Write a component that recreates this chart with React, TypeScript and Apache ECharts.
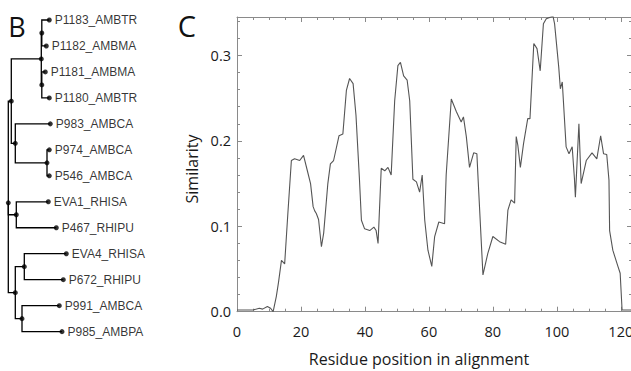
import React, { useEffect, useRef } from 'react';
import * as echarts from 'echarts';

// ---------- Panel B: tree ----------
const leafNames = [
  'P1183_AMBTR', 'P1182_AMBMA', 'P1181_AMBMA', 'P1180_AMBTR', 'P983_AMBCA', 'P974_AMBCA',
  'P546_AMBCA', 'EVA1_RHISA', 'P467_RHIPU', 'EVA4_RHISA', 'P672_RHIPU', 'P991_AMBCA', 'P985_AMBPA',
];
const nodeIds = [
  'R', 'A', 'G', 'G1', 'P1183_AMBTR', 'P1182_AMBMA', 'G2', 'P1181_AMBMA', 'P1180_AMBTR',
  'B', 'P983_AMBCA', 'H', 'P974_AMBCA', 'P546_AMBCA',
  'C', 'EVA1_RHISA', 'P467_RHIPU',
  'D', 'E', 'EVA4_RHISA', 'P672_RHIPU', 'F', 'P991_AMBCA', 'P985_AMBPA',
];
const nodeParents = [
  '', 'R', 'A', 'G', 'G1', 'G1', 'G', 'G2', 'G2',
  'A', 'B', 'B', 'H', 'H',
  'R', 'C', 'C',
  'R', 'D', 'E', 'E', 'D', 'F', 'F',
];
// cumulative distance from the root (arbitrary units)
const nodeDepths = [
  0, 3, 33, 33.5, 41, 38, 33.5, 37, 41,
  7, 42, 38.7, 41, 41,
  8, 40, 48,
  7, 16, 58, 55, 13.7, 51, 53.7,
];

// ---------- Panel C: similarity profile ----------
const residuePos = [
  0, 5, 7, 8, 9.5, 10.5, 11.3, 12.3, 13, 13.9, 14.9, 15.9, 17, 18, 19.6, 20.8, 22, 23, 23.8, 24.3,
  24.8, 25.5, 26.4, 27.1, 28.4, 29.2, 30.2, 31.9, 33.1, 34.2, 35.2, 36.3, 37.2, 38.3, 38.9, 39.9,
  41.5, 42.8, 43.5, 44.1, 45.1, 46.2, 47.2, 48.2, 49.3, 50.3, 51.1, 52.1, 53.2, 54, 55, 56.1, 57.1,
  57.9, 58.7, 59.7, 60.9, 61.8, 63.1, 64.9, 65.4, 67, 68.6, 70.1, 70.8, 71.7, 72.7, 74, 75, 75.4,
  76.9, 78.4, 80, 82.1, 84, 84.7, 85.7, 86.8, 87.3, 87.8, 88.6, 89.6, 90.9, 91.6, 92.8, 93.8, 94.8,
  95.8, 96.7, 98.8, 99.3, 100.6, 101.1, 101.7, 102.9, 103.8, 104.8, 105.5, 105.8, 106.9, 107.6,
  109.2, 111, 112.5, 113.7, 114.6, 115.6, 116.3, 116.5, 117.5, 119.1, 119.8, 120.4, 123.5,
];
const similarity = [
  0.002, 0.002, 0.004, 0.003, 0.006, 0.004, 0.0, 0.018, 0.035, 0.06, 0.056, 0.115, 0.177, 0.179, 0.177, 0.183, 0.165, 0.15, 0.123, 0.118,
  0.115, 0.108, 0.076, 0.092, 0.15, 0.173, 0.177, 0.206, 0.208, 0.259, 0.273, 0.267, 0.23, 0.154, 0.107, 0.097,
  0.095, 0.099, 0.095, 0.08, 0.168, 0.165, 0.169, 0.16, 0.247, 0.288, 0.292, 0.276, 0.271, 0.247, 0.155, 0.152, 0.14,
  0.16, 0.107, 0.072, 0.053, 0.088, 0.105, 0.103, 0.16, 0.249, 0.234, 0.222, 0.228, 0.205, 0.169, 0.186, 0.185, 0.154,
  0.043, 0.068, 0.088, 0.082, 0.079, 0.119, 0.131, 0.127, 0.205, 0.195, 0.169, 0.197, 0.226, 0.226, 0.314, 0.308, 0.282,
  0.337, 0.343, 0.346, 0.337, 0.286, 0.261, 0.269, 0.193, 0.185, 0.193, 0.156, 0.134, 0.22, 0.15,
  0.177, 0.186, 0.179, 0.206, 0.185, 0.184, 0.154, 0.095, 0.072, 0.053, 0.045, 0.002, 0.002,
];

const X_MAX = 123.5;
const Y_MAX = 0.345;
const AXIS_COLOR = '#8a8a8a';

export default function App() {
  const ref = useRef<HTMLDivElement>(null);

  useEffect(() => {
    const chart = echarts.init(ref.current!, null, { renderer: 'svg' });

    // tree layout: leaves by order, internal nodes at mean of children
    const children: Record<string, string[]> = {};
    const depthOf: Record<string, number> = {};
    nodeIds.forEach((id, i) => {
      depthOf[id] = nodeDepths[i];
      const p = nodeParents[i];
      if (p) (children[p] = children[p] || []).push(id);
    });
    const yOf: Record<string, number> = {};
    const getY = (id: string): number => {
      if (yOf[id] !== undefined) return yOf[id];
      const li = leafNames.indexOf(id);
      if (li >= 0) return (yOf[id] = li);
      const ys = children[id].map(getY);
      return (yOf[id] = ys.reduce((a, b) => a + b, 0) / ys.length);
    };
    nodeIds.forEach(getY);

    const edges = nodeIds
      .map((id, i) => ({ id, p: nodeParents[i] }))
      .filter((e) => e.p)
      .map((e) => ({
        coords: [
          [depthOf[e.p], yOf[e.p]],
          [depthOf[e.p], yOf[e.id]],
          [depthOf[e.id], yOf[e.id]],
        ],
      }));

    const nodePoints = nodeIds.map((id) => ({
      name: id,
      value: [depthOf[id], yOf[id]],
      label: { show: leafNames.indexOf(id) >= 0 },
    }));

    const frameX = (position: 'top' | 'bottom', interval: number, len: number, withLine: boolean, withLabels: boolean) => ({
      type: 'value',
      gridIndex: 0,
      position,
      min: 0,
      max: X_MAX,
      interval,
      splitLine: { show: false },
      axisLine: { show: withLine, onZero: false, lineStyle: { color: AXIS_COLOR, width: 1 } },
      axisTick: { show: true, inside: true, length: len, lineStyle: { color: AXIS_COLOR, width: 1 } },
      axisLabel: withLabels
        ? {
            show: true,
            margin: 12,
            color: '#1a1a1a',
            fontFamily: 'Open Sans',
            fontSize: 14.5,
            showMaxLabel: false,
            formatter: (v: number) => (Math.abs(v % 20) < 1e-9 ? String(v) : ''),
          }
        : { show: false },
    });

    const frameY = (position: 'left' | 'right', interval: number, len: number, withLine: boolean, withLabels: boolean) => ({
      type: 'value',
      gridIndex: 0,
      position,
      min: 0,
      max: Y_MAX,
      interval,
      splitLine: { show: false },
      axisLine: { show: withLine, onZero: false, lineStyle: { color: AXIS_COLOR, width: 1 } },
      axisTick: { show: true, inside: true, length: len, lineStyle: { color: AXIS_COLOR, width: 1 } },
      axisLabel: withLabels
        ? {
            show: true,
            margin: 6,
            color: '#1a1a1a',
            fontFamily: 'Open Sans',
            fontSize: 14.5,
            showMaxLabel: false,
            formatter: (v: number) => (Math.abs(v * 10 - Math.round(v * 10)) < 1e-6 ? v.toFixed(1) : ''),
          }
        : { show: false },
    });

    chart.setOption({
      animation: false,
      backgroundColor: '#ffffff',
      grid: [
        { left: 237, top: 17, width: 395, height: 294.7, outerBoundsMode: 'none', containLabel: false },
        { left: 0, top: 0, width: 200, height: 371, outerBoundsMode: 'none', containLabel: false },
      ],
      xAxis: [
        frameX('bottom', 20, 5, true, true),
        frameX('bottom', 5, 3, false, false),
        frameX('top', 20, 5, true, false),
        frameX('top', 5, 3, false, false),
        { type: 'value', gridIndex: 1, min: -8.3, max: 191.7, show: false },
      ],
      yAxis: [
        frameY('left', 0.1, 5, true, true),
        frameY('left', 0.02, 3, false, false),
        frameY('right', 0.1, 5, true, false),
        frameY('right', 0.02, 3, false, false),
        { type: 'value', gridIndex: 1, inverse: true, min: -0.77, max: 13.516, show: false },
      ],
      graphic: [
        {
          type: 'text', x: 17, y: 26,
          style: { text: 'B', fontFamily: 'Open Sans', fontSize: 27, fill: '#111', align: 'center', verticalAlign: 'middle' },
        },
        {
          type: 'text', x: 187, y: 25,
          style: { text: 'C', fontFamily: 'Open Sans', fontSize: 29, fill: '#111', align: 'center', verticalAlign: 'middle' },
        },
        {
          type: 'text', x: 192, y: 169, rotation: Math.PI / 2,
          style: { text: 'Similarity', fontFamily: 'Open Sans', fontSize: 16, fill: '#1a1a1a', align: 'center', verticalAlign: 'middle' },
        },
        {
          type: 'text', x: 419, y: 359,
          style: { text: 'Residue position in alignment', fontFamily: 'Open Sans', fontSize: 16, fill: '#1a1a1a', align: 'center', verticalAlign: 'middle' },
        },
      ],
      series: [
        {
          type: 'line',
          xAxisIndex: 0,
          yAxisIndex: 0,
          data: residuePos.map((x, i) => [x, similarity[i]]),
          showSymbol: false,
          symbol: 'none',
          lineStyle: { color: '#555555', width: 1.1 },
          clip: true,
          silent: true,
        },
        {
          type: 'lines',
          coordinateSystem: 'cartesian2d',
          xAxisIndex: 4,
          yAxisIndex: 4,
          polyline: true,
          data: edges,
          lineStyle: { color: '#000', width: 1.3, opacity: 1 },
          silent: true,
        },
        {
          type: 'scatter',
          xAxisIndex: 4,
          yAxisIndex: 4,
          symbol: 'circle',
          symbolSize: 5,
          data: nodePoints,
          itemStyle: { color: '#000' },
          label: {
            position: 'right',
            distance: 3,
            formatter: '{b}',
            fontFamily: 'Liberation Sans',
            fontSize: 12,
            color: '#000',
          },
          silent: true,
        },
      ],
    });

    return () => chart.dispose();
  }, []);

  return (
    <div
      ref={ref}
      style={{ position: 'fixed', left: 0, top: 0, width: 631, height: 371, background: '#fff' }}
    />
  );
}
